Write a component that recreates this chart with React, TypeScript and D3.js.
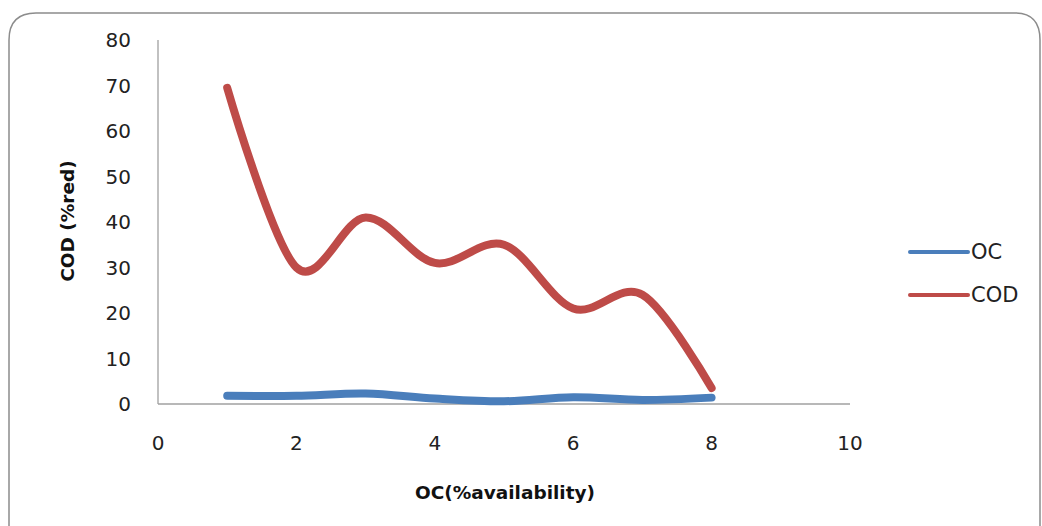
import React from "react";
import * as d3 from "d3";

const xValues = [1, 2, 3, 4, 5, 6, 7, 8];
const ocValues = [1.8, 1.8, 2.3, 1.2, 0.6, 1.5, 0.9, 1.4];
const codValues = [69.5, 30, 41, 31, 35, 21, 24, 3.5];
const xTicks = [0, 2, 4, 6, 8, 10];
const yTicks = [0, 10, 20, 30, 40, 50, 60, 70, 80];
const seriesNames = ["OC", "COD"];
const seriesColors = ["#4A7EBB", "#BE4B48"];

export default function App() {
  const W = 1042, H = 526;
  const left = 158, right = 850, top = 40, bottom = 404;
  const x = d3.scaleLinear().domain([0, 10]).range([left, right]);
  const y = d3.scaleLinear().domain([0, 80]).range([bottom, top]);
  const line = d3
    .line<[number, number]>()
    .x((d) => x(d[0]))
    .y((d) => y(d[1]))
    .curve(d3.curveCardinal.tension(0));
  const series = [ocValues, codValues];
  const font = "'DejaVu Sans', Verdana, sans-serif";
  return (
    <svg
      width={W}
      height={H}
      style={{ position: "absolute", left: 0, top: 0, background: "#fff" }}
    >
      <path
        d={`M9,${H + 10} L9,40 Q9,13 36,13 L1015,13 Q1040,13 1040,40 L1040,${H + 10}`}
        fill="none"
        stroke="#8c8c8c"
        strokeWidth={1.5}
      />
      <line x1={left} x2={left} y1={top} y2={bottom} stroke="#a0a0a0" strokeWidth={1.3} />
      <line x1={left} x2={right} y1={bottom} y2={bottom} stroke="#a0a0a0" strokeWidth={1.3} />
      {yTicks.map((t) => (
        <text
          key={"y" + t}
          x={131}
          y={y(t)}
          dy="0.35em"
          textAnchor="end"
          fontFamily={font}
          fontSize={20}
          fill="#222"
        >
          {t}
        </text>
      ))}
      {xTicks.map((t) => (
        <text
          key={"x" + t}
          x={x(t)}
          y={443}
          dy="0.35em"
          textAnchor="middle"
          fontFamily={font}
          fontSize={20}
          fill="#222"
        >
          {t}
        </text>
      ))}
      {series.map((vals, i) => (
        <path
          key={seriesNames[i]}
          d={line(xValues.map((xv, j) => [xv, vals[j]] as [number, number])) || ""}
          fill="none"
          stroke={seriesColors[i]}
          strokeWidth={8}
          strokeLinecap="round"
          strokeLinejoin="round"
        />
      ))}
      <text
        x={505}
        y={493}
        dy="0.35em"
        textAnchor="middle"
        fontFamily={font}
        fontWeight="bold"
        fontSize={18.5}
        fill="#111"
      >
        OC(%availability)
      </text>
      <text
        transform={`translate(68,221) rotate(-90)`}
        dy="0.35em"
        textAnchor="middle"
        fontFamily={font}
        fontWeight="bold"
        fontSize={18.5}
        fill="#111"
      >
        COD (%red)
      </text>
      {seriesNames.map((n, i) => (
        <g key={n}>
          <line
            x1={910}
            x2={968}
            y1={252 + i * 43}
            y2={252 + i * 43}
            stroke={seriesColors[i]}
            strokeWidth={4}
            strokeLinecap="round"
          />
          <text
            x={971}
            y={252 + i * 43}
            dy="0.35em"
            fontFamily={font}
            fontSize={21}
            fill="#222"
          >
            {n}
          </text>
        </g>
      ))}
    </svg>
  );
}
